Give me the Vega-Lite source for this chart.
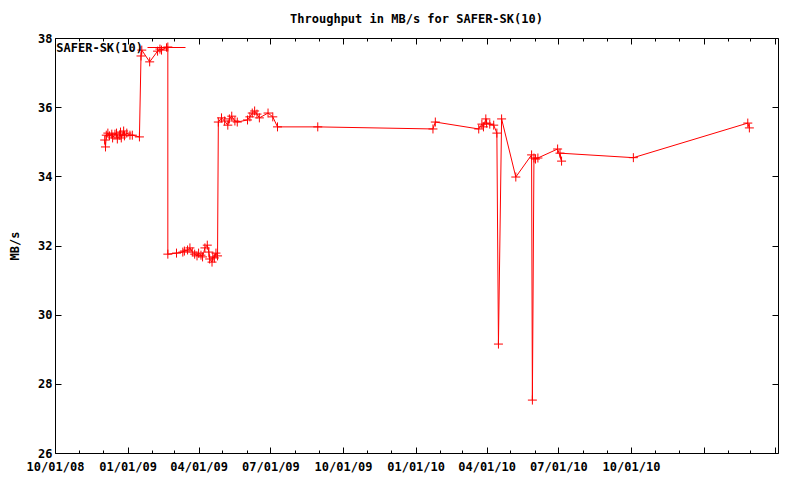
{
  "$schema": "https://vega.github.io/schema/vega-lite/v6.json",
  "width": 723,
  "height": 415,
  "autosize": {"type": "none"},
  "padding": {"left": 55, "top": 38, "right": 22, "bottom": 27},
  "background": "white",
  "title": {
    "text": "Throughput in MB/s for SAFER-SK(10)",
    "font": "DejaVu Sans Mono",
    "fontSize": 12,
    "fontWeight": "bold",
    "color": "black",
    "anchor": "middle",
    "frame": "group",
    "offset": 2
  },
  "data": {
    "values": [
      {"seq": 1, "date": "2008-12-03", "mbs": 35.05, "series": "SAFER-SK(10)"},
      {"seq": 2, "date": "2008-12-04", "mbs": 34.85, "series": "SAFER-SK(10)"},
      {"seq": 3, "date": "2008-12-05", "mbs": 35.19, "series": "SAFER-SK(10)"},
      {"seq": 4, "date": "2008-12-07", "mbs": 35.25, "series": "SAFER-SK(10)"},
      {"seq": 5, "date": "2008-12-09", "mbs": 35.17, "series": "SAFER-SK(10)"},
      {"seq": 6, "date": "2008-12-12", "mbs": 35.22, "series": "SAFER-SK(10)"},
      {"seq": 7, "date": "2008-12-13", "mbs": 35.11, "series": "SAFER-SK(10)"},
      {"seq": 8, "date": "2008-12-16", "mbs": 35.22, "series": "SAFER-SK(10)"},
      {"seq": 9, "date": "2008-12-18", "mbs": 35.25, "series": "SAFER-SK(10)"},
      {"seq": 10, "date": "2008-12-19", "mbs": 35.08, "series": "SAFER-SK(10)"},
      {"seq": 11, "date": "2008-12-22", "mbs": 35.19, "series": "SAFER-SK(10)"},
      {"seq": 12, "date": "2008-12-23", "mbs": 35.28, "series": "SAFER-SK(10)"},
      {"seq": 13, "date": "2008-12-24", "mbs": 35.11, "series": "SAFER-SK(10)"},
      {"seq": 14, "date": "2008-12-27", "mbs": 35.31, "series": "SAFER-SK(10)"},
      {"seq": 15, "date": "2008-12-28", "mbs": 35.17, "series": "SAFER-SK(10)"},
      {"seq": 16, "date": "2008-12-31", "mbs": 35.25, "series": "SAFER-SK(10)"},
      {"seq": 17, "date": "2009-01-04", "mbs": 35.19, "series": "SAFER-SK(10)"},
      {"seq": 18, "date": "2009-01-07", "mbs": 35.19, "series": "SAFER-SK(10)"},
      {"seq": 19, "date": "2009-01-16", "mbs": 35.14, "series": "SAFER-SK(10)"},
      {"seq": 20, "date": "2009-01-18", "mbs": 37.48, "series": "SAFER-SK(10)"},
      {"seq": 21, "date": "2009-01-19", "mbs": 37.65, "series": "SAFER-SK(10)"},
      {"seq": 22, "date": "2009-01-29", "mbs": 37.31, "series": "SAFER-SK(10)"},
      {"seq": 23, "date": "2009-02-08", "mbs": 37.62, "series": "SAFER-SK(10)"},
      {"seq": 24, "date": "2009-02-11", "mbs": 37.68, "series": "SAFER-SK(10)"},
      {"seq": 25, "date": "2009-02-13", "mbs": 37.65, "series": "SAFER-SK(10)"},
      {"seq": 26, "date": "2009-02-21", "mbs": 37.74, "series": "SAFER-SK(10)"},
      {"seq": 27, "date": "2009-02-21", "mbs": 31.75, "series": "SAFER-SK(10)"},
      {"seq": 28, "date": "2009-03-04", "mbs": 31.78, "series": "SAFER-SK(10)"},
      {"seq": 29, "date": "2009-03-12", "mbs": 31.81, "series": "SAFER-SK(10)"},
      {"seq": 30, "date": "2009-03-14", "mbs": 31.84, "series": "SAFER-SK(10)"},
      {"seq": 31, "date": "2009-03-18", "mbs": 31.87, "series": "SAFER-SK(10)"},
      {"seq": 32, "date": "2009-03-21", "mbs": 31.93, "series": "SAFER-SK(10)"},
      {"seq": 33, "date": "2009-03-24", "mbs": 31.81, "series": "SAFER-SK(10)"},
      {"seq": 34, "date": "2009-03-27", "mbs": 31.75, "series": "SAFER-SK(10)"},
      {"seq": 35, "date": "2009-03-30", "mbs": 31.70, "series": "SAFER-SK(10)"},
      {"seq": 36, "date": "2009-04-01", "mbs": 31.78, "series": "SAFER-SK(10)"},
      {"seq": 37, "date": "2009-04-04", "mbs": 31.72, "series": "SAFER-SK(10)"},
      {"seq": 38, "date": "2009-04-06", "mbs": 31.67, "series": "SAFER-SK(10)"},
      {"seq": 39, "date": "2009-04-09", "mbs": 31.93, "series": "SAFER-SK(10)"},
      {"seq": 40, "date": "2009-04-12", "mbs": 32.01, "series": "SAFER-SK(10)"},
      {"seq": 41, "date": "2009-04-14", "mbs": 31.81, "series": "SAFER-SK(10)"},
      {"seq": 42, "date": "2009-04-15", "mbs": 31.61, "series": "SAFER-SK(10)"},
      {"seq": 43, "date": "2009-04-18", "mbs": 31.52, "series": "SAFER-SK(10)"},
      {"seq": 44, "date": "2009-04-19", "mbs": 31.67, "series": "SAFER-SK(10)"},
      {"seq": 45, "date": "2009-04-21", "mbs": 31.64, "series": "SAFER-SK(10)"},
      {"seq": 46, "date": "2009-04-23", "mbs": 31.78, "series": "SAFER-SK(10)"},
      {"seq": 47, "date": "2009-04-25", "mbs": 31.70, "series": "SAFER-SK(10)"},
      {"seq": 48, "date": "2009-04-26", "mbs": 35.57, "series": "SAFER-SK(10)"},
      {"seq": 49, "date": "2009-04-30", "mbs": 35.69, "series": "SAFER-SK(10)"},
      {"seq": 50, "date": "2009-05-04", "mbs": 35.60, "series": "SAFER-SK(10)"},
      {"seq": 51, "date": "2009-05-08", "mbs": 35.48, "series": "SAFER-SK(10)"},
      {"seq": 52, "date": "2009-05-10", "mbs": 35.66, "series": "SAFER-SK(10)"},
      {"seq": 53, "date": "2009-05-13", "mbs": 35.74, "series": "SAFER-SK(10)"},
      {"seq": 54, "date": "2009-05-17", "mbs": 35.60, "series": "SAFER-SK(10)"},
      {"seq": 55, "date": "2009-05-20", "mbs": 35.57, "series": "SAFER-SK(10)"},
      {"seq": 56, "date": "2009-06-02", "mbs": 35.63, "series": "SAFER-SK(10)"},
      {"seq": 57, "date": "2009-06-05", "mbs": 35.72, "series": "SAFER-SK(10)"},
      {"seq": 58, "date": "2009-06-08", "mbs": 35.83, "series": "SAFER-SK(10)"},
      {"seq": 59, "date": "2009-06-11", "mbs": 35.89, "series": "SAFER-SK(10)"},
      {"seq": 60, "date": "2009-06-14", "mbs": 35.80, "series": "SAFER-SK(10)"},
      {"seq": 61, "date": "2009-06-17", "mbs": 35.69, "series": "SAFER-SK(10)"},
      {"seq": 62, "date": "2009-06-28", "mbs": 35.83, "series": "SAFER-SK(10)"},
      {"seq": 63, "date": "2009-07-04", "mbs": 35.72, "series": "SAFER-SK(10)"},
      {"seq": 64, "date": "2009-07-10", "mbs": 35.43, "series": "SAFER-SK(10)"},
      {"seq": 65, "date": "2009-08-30", "mbs": 35.43, "series": "SAFER-SK(10)"},
      {"seq": 66, "date": "2010-01-23", "mbs": 35.37, "series": "SAFER-SK(10)"},
      {"seq": 67, "date": "2010-01-26", "mbs": 35.57, "series": "SAFER-SK(10)"},
      {"seq": 68, "date": "2010-03-22", "mbs": 35.37, "series": "SAFER-SK(10)"},
      {"seq": 69, "date": "2010-03-26", "mbs": 35.51, "series": "SAFER-SK(10)"},
      {"seq": 70, "date": "2010-03-28", "mbs": 35.43, "series": "SAFER-SK(10)"},
      {"seq": 71, "date": "2010-03-31", "mbs": 35.66, "series": "SAFER-SK(10)"},
      {"seq": 72, "date": "2010-04-01", "mbs": 35.54, "series": "SAFER-SK(10)"},
      {"seq": 73, "date": "2010-04-05", "mbs": 35.51, "series": "SAFER-SK(10)"},
      {"seq": 74, "date": "2010-04-10", "mbs": 35.48, "series": "SAFER-SK(10)"},
      {"seq": 75, "date": "2010-04-14", "mbs": 35.25, "series": "SAFER-SK(10)"},
      {"seq": 76, "date": "2010-04-16", "mbs": 29.15, "series": "SAFER-SK(10)"},
      {"seq": 77, "date": "2010-04-20", "mbs": 35.66, "series": "SAFER-SK(10)"},
      {"seq": 78, "date": "2010-05-08", "mbs": 33.98, "series": "SAFER-SK(10)"},
      {"seq": 79, "date": "2010-05-28", "mbs": 34.62, "series": "SAFER-SK(10)"},
      {"seq": 80, "date": "2010-05-29", "mbs": 27.53, "series": "SAFER-SK(10)"},
      {"seq": 81, "date": "2010-05-31", "mbs": 34.53, "series": "SAFER-SK(10)"},
      {"seq": 82, "date": "2010-06-02", "mbs": 34.50, "series": "SAFER-SK(10)"},
      {"seq": 83, "date": "2010-06-05", "mbs": 34.53, "series": "SAFER-SK(10)"},
      {"seq": 84, "date": "2010-06-30", "mbs": 34.79, "series": "SAFER-SK(10)"},
      {"seq": 85, "date": "2010-07-05", "mbs": 34.44, "series": "SAFER-SK(10)"},
      {"seq": 86, "date": "2010-07-03", "mbs": 34.67, "series": "SAFER-SK(10)"},
      {"seq": 87, "date": "2010-10-04", "mbs": 34.54, "series": "SAFER-SK(10)"},
      {"seq": 88, "date": "2011-02-26", "mbs": 35.54, "series": "SAFER-SK(10)"},
      {"seq": 89, "date": "2011-02-28", "mbs": 35.40, "series": "SAFER-SK(10)"}
    ]
  },
  "resolve": {"axis": {"x": "independent", "y": "independent"}},
  "layer": [
    {
      "mark": {"type": "line", "strokeWidth": 1, "interpolate": "linear"},
      "encoding": {
        "x": {
          "field": "date",
          "type": "temporal",
          "scale": {
            "type": "utc",
            "domain": [
              {"year": 2008, "month": 10, "date": 1, "utc": true},
              {"year": 2011, "month": 4, "date": 5, "hours": 7, "utc": true}
            ]
          },
          "axis": {
            "orient": "bottom",
            "title": null,
            "values": [
              {"year": 2008, "month": 10, "date": 1, "utc": true},
              {"year": 2009, "month": 1, "date": 1, "utc": true},
              {"year": 2009, "month": 4, "date": 1, "utc": true},
              {"year": 2009, "month": 7, "date": 1, "utc": true},
              {"year": 2009, "month": 10, "date": 1, "utc": true},
              {"year": 2010, "month": 1, "date": 1, "utc": true},
              {"year": 2010, "month": 4, "date": 1, "utc": true},
              {"year": 2010, "month": 7, "date": 1, "utc": true},
              {"year": 2010, "month": 10, "date": 1, "utc": true},
              {"year": 2011, "month": 1, "date": 1, "utc": true},
              {"year": 2011, "month": 4, "date": 1, "utc": true}
            ],
            "format": "%m/%d/%y",
            "labelExpr": "datum.value > utc(2010, 9, 2) ? '' : datum.label",
            "offset": -6,
            "tickSize": 6,
            "labelPadding": 8,
            "labelOverlap": false,
            "labelFlush": false
          }
        },
        "y": {
          "field": "mbs",
          "type": "quantitative",
          "scale": {"domain": [26, 38], "nice": false, "zero": false},
          "axis": {
            "orient": "left",
            "title": "MB/s",
            "values": [26, 28, 30, 32, 34, 36, 38],
            "offset": -6,
            "tickSize": 6,
            "labelPadding": 3,
            "titlePadding": 16,
            "labelFlush": false,
            "labelOverlap": false
          }
        },
        "color": {
          "field": "series",
          "type": "nominal",
          "scale": {"range": ["#ff0000"]},
          "legend": {
            "title": null,
            "orient": "none",
            "legendX": 92,
            "legendY": -10,
            "padding": 0,
            "symbolType": "M-1,0H1M0,-0.22V0.22",
            "symbolSize": 1444,
            "symbolStrokeWidth": 1,
            "symbolFillColor": "transparent",
            "symbolOpacity": 1,
            "labelAlign": "right",
            "labelOffset": -43,
            "labelFont": "DejaVu Sans Mono",
            "labelFontSize": 12,
            "labelFontWeight": "bold",
            "labelColor": "black"
          }
        },
        "order": {"field": "seq", "type": "quantitative"}
      }
    },
    {
      "mark": {
        "type": "point",
        "shape": "M-1,0H1M0,-1V1",
        "filled": false,
        "size": 81,
        "strokeWidth": 1,
        "color": "#ff0000",
        "opacity": 1
      },
      "encoding": {
        "x": {
          "field": "date",
          "type": "temporal",
          "axis": {
            "orient": "bottom",
            "title": null,
            "labels": false,
            "offset": -3,
            "tickSize": 3,
            "values": [
              {"year": 2008, "month": 11, "date": 1, "utc": true},
              {"year": 2008, "month": 12, "date": 1, "utc": true},
              {"year": 2009, "month": 2, "date": 1, "utc": true},
              {"year": 2009, "month": 3, "date": 1, "utc": true},
              {"year": 2009, "month": 5, "date": 1, "utc": true},
              {"year": 2009, "month": 6, "date": 1, "utc": true},
              {"year": 2009, "month": 8, "date": 1, "utc": true},
              {"year": 2009, "month": 9, "date": 1, "utc": true},
              {"year": 2009, "month": 11, "date": 1, "utc": true},
              {"year": 2009, "month": 12, "date": 1, "utc": true},
              {"year": 2010, "month": 2, "date": 1, "utc": true},
              {"year": 2010, "month": 3, "date": 1, "utc": true},
              {"year": 2010, "month": 5, "date": 1, "utc": true},
              {"year": 2010, "month": 6, "date": 1, "utc": true},
              {"year": 2010, "month": 8, "date": 1, "utc": true},
              {"year": 2010, "month": 9, "date": 1, "utc": true},
              {"year": 2010, "month": 11, "date": 1, "utc": true},
              {"year": 2010, "month": 12, "date": 1, "utc": true},
              {"year": 2011, "month": 2, "date": 1, "utc": true},
              {"year": 2011, "month": 3, "date": 1, "utc": true}
            ]
          }
        },
        "y": {
          "field": "mbs",
          "type": "quantitative",
          "axis": {
            "orient": "right",
            "title": null,
            "labels": false,
            "offset": -6,
            "tickSize": 6,
            "values": [26, 28, 30, 32, 34, 36, 38]
          }
        }
      }
    },
    {
      "mark": {"type": "point", "opacity": 0, "size": 1},
      "encoding": {
        "x": {
          "field": "date",
          "type": "temporal",
          "axis": {
            "orient": "top",
            "title": null,
            "labels": false,
            "offset": -6,
            "tickSize": 6,
            "values": [
              {"year": 2008, "month": 10, "date": 1, "utc": true},
              {"year": 2009, "month": 1, "date": 1, "utc": true},
              {"year": 2009, "month": 4, "date": 1, "utc": true},
              {"year": 2009, "month": 7, "date": 1, "utc": true},
              {"year": 2009, "month": 10, "date": 1, "utc": true},
              {"year": 2010, "month": 1, "date": 1, "utc": true},
              {"year": 2010, "month": 4, "date": 1, "utc": true},
              {"year": 2010, "month": 7, "date": 1, "utc": true},
              {"year": 2010, "month": 10, "date": 1, "utc": true},
              {"year": 2011, "month": 1, "date": 1, "utc": true},
              {"year": 2011, "month": 4, "date": 1, "utc": true}
            ]
          }
        },
        "y": {"field": "mbs", "type": "quantitative", "axis": null}
      }
    },
    {
      "mark": {"type": "point", "opacity": 0, "size": 1},
      "encoding": {
        "x": {
          "field": "date",
          "type": "temporal",
          "axis": {
            "orient": "top",
            "title": null,
            "labels": false,
            "offset": -3,
            "tickSize": 3,
            "values": [
              {"year": 2008, "month": 11, "date": 1, "utc": true},
              {"year": 2008, "month": 12, "date": 1, "utc": true},
              {"year": 2009, "month": 2, "date": 1, "utc": true},
              {"year": 2009, "month": 3, "date": 1, "utc": true},
              {"year": 2009, "month": 5, "date": 1, "utc": true},
              {"year": 2009, "month": 6, "date": 1, "utc": true},
              {"year": 2009, "month": 8, "date": 1, "utc": true},
              {"year": 2009, "month": 9, "date": 1, "utc": true},
              {"year": 2009, "month": 11, "date": 1, "utc": true},
              {"year": 2009, "month": 12, "date": 1, "utc": true},
              {"year": 2010, "month": 2, "date": 1, "utc": true},
              {"year": 2010, "month": 3, "date": 1, "utc": true},
              {"year": 2010, "month": 5, "date": 1, "utc": true},
              {"year": 2010, "month": 6, "date": 1, "utc": true},
              {"year": 2010, "month": 8, "date": 1, "utc": true},
              {"year": 2010, "month": 9, "date": 1, "utc": true},
              {"year": 2010, "month": 11, "date": 1, "utc": true},
              {"year": 2010, "month": 12, "date": 1, "utc": true},
              {"year": 2011, "month": 2, "date": 1, "utc": true},
              {"year": 2011, "month": 3, "date": 1, "utc": true}
            ]
          }
        },
        "y": {"field": "mbs", "type": "quantitative", "axis": null}
      }
    }
  ],
  "config": {
    "view": {"stroke": "black", "strokeWidth": 1},
    "axis": {
      "domain": false,
      "grid": false,
      "ticks": true,
      "tickColor": "black",
      "tickWidth": 1,
      "labelColor": "black",
      "labelFont": "DejaVu Sans Mono",
      "labelFontSize": 12,
      "labelFontWeight": "bold",
      "titleFont": "DejaVu Sans Mono",
      "titleFontSize": 12,
      "titleFontWeight": "bold",
      "titleColor": "black"
    }
  }
}
